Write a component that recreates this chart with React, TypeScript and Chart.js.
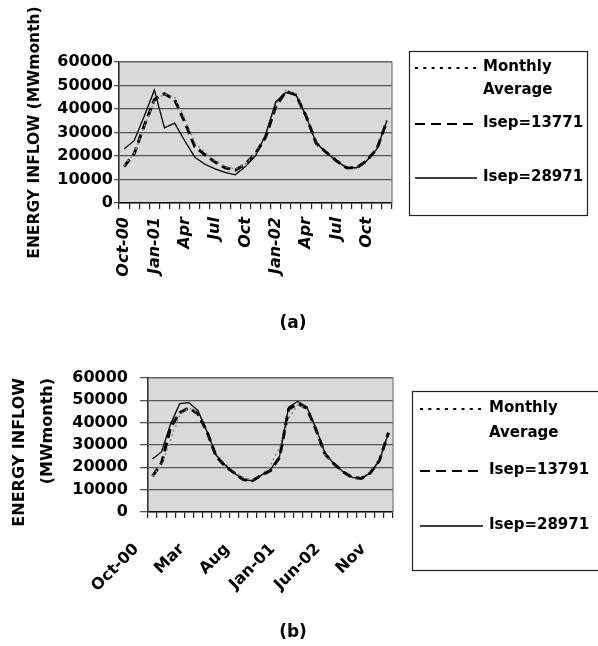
import React, { useEffect, useRef } from 'react';
import { Chart, registerables } from 'chart.js';

Chart.register(...registerables);

const FONT = "'DejaVu Sans', sans-serif";

// ---------- DATA ----------
const months = [
  'Oct-00', 'Nov-00', 'Dec-00', 'Jan-01', 'Feb-01', 'Mar-01', 'Apr-01', 'May-01', 'Jun-01',
  'Jul-01', 'Aug-01', 'Sep-01', 'Oct-01', 'Nov-01', 'Dec-01', 'Jan-02', 'Feb-02', 'Mar-02',
  'Apr-02', 'May-02', 'Jun-02', 'Jul-02', 'Aug-02', 'Sep-02', 'Oct-02', 'Nov-02', 'Dec-02',
];

const tickLabelsA = [
  'Oct-00', '', '', 'Jan-01', '', '', 'Apr', '', '', 'Jul', '', '', 'Oct', '', '',
  'Jan-02', '', '', 'Apr', '', '', 'Jul', '', '', 'Oct', '', '',
];

const tickLabelsB = [
  'Oct-00', '', '', '', '', 'Mar', '', '', '', '', 'Aug', '', '', '', '',
  'Jan-01', '', '', '', '', 'Jun-02', '', '', '', '', 'Nov', '',
];

const yTickValues = [0, 10000, 20000, 30000, 40000, 50000, 60000];

const monthlyAverage = [
  16000, 21000, 32500, 43500, 46500, 45000, 36000, 25500, 21500, 18000, 15500, 14500,
  16500, 21000, 29000, 42000, 48000, 46500, 37500, 25500, 21500, 18000, 15500, 15000,
  18000, 23000, 35500,
];

const isep13771 = [
  15500, 21000, 33000, 44000, 46500, 44000, 34500, 24000, 20500, 17500, 15000, 14000,
  16500, 21000, 28000, 41000, 47500, 46000, 37000, 25500, 21500, 18000, 15000, 15000,
  18000, 23000, 35000,
];

const isep28971A = [
  23000, 26500, 37000, 48000, 32000, 34000, 26500, 19500, 16500, 14500, 13000, 12000,
  15500, 20000, 29000, 43000, 47000, 46000, 37000, 25500, 21500, 18000, 15000, 15000,
  18000, 23000, 35000,
];

const isep13791 = [
  16000, 22000, 38000, 44500, 46500, 44000, 36000, 25000, 20500, 17500, 14500, 14000,
  16500, 18500, 24500, 46000, 48500, 46500, 37000, 26000, 21500, 18000, 15500, 15000,
  17500, 23000, 35500,
];

const isep28971B = [
  23700, 27000, 39500, 48500, 49000, 45500, 36000, 25500, 21000, 17500, 14500, 14000,
  16500, 19000, 25000, 47000, 49500, 47000, 37500, 26500, 21500, 18000, 15500, 15000,
  17500, 23000, 35500,
];

// ---------- PLUGINS ----------
const plotFrame = {
  id: 'plotFrame',
  beforeDraw(chart: any) {
    const { ctx, chartArea } = chart;
    if (!chartArea) return;
    ctx.save();
    ctx.fillStyle = '#d9d9d9';
    ctx.fillRect(chartArea.left, chartArea.top, chartArea.right - chartArea.left, chartArea.bottom - chartArea.top);
    ctx.restore();
  },
  afterDraw(chart: any) {
    const { ctx, chartArea } = chart;
    if (!chartArea) return;
    ctx.save();
    ctx.strokeStyle = '#7a7a7a';
    ctx.lineWidth = 1.2;
    ctx.beginPath();
    ctx.moveTo(chartArea.left, chartArea.top);
    ctx.lineTo(chartArea.right, chartArea.top);
    ctx.lineTo(chartArea.right, chartArea.bottom);
    ctx.stroke();
    ctx.restore();
  },
};

const boxLegend = {
  id: 'boxLegend',
  afterDraw(chart: any, _args: any, opts: any) {
    if (!opts || !opts.box) return;
    const ctx = chart.ctx;
    const b = opts.box;
    ctx.save();
    ctx.strokeStyle = '#222';
    ctx.lineWidth = 1.2;
    ctx.setLineDash([]);
    ctx.strokeRect(b.left + 0.5, b.top + 0.5, b.right - b.left, b.bottom - b.top);
    ctx.font = `bold ${opts.fontSize}px ${FONT}`;
    ctx.textBaseline = 'middle';
    ctx.textAlign = 'left';
    ctx.fillStyle = '#000';
    chart.data.datasets.forEach((ds: any, i: number) => {
      const y = opts.rows[i];
      const s = opts.samples[i];
      ctx.strokeStyle = '#000';
      ctx.lineWidth = s.width;
      ctx.setLineDash(s.dash);
      ctx.beginPath();
      ctx.moveTo(opts.sampleX0, y + 1);
      ctx.lineTo(opts.sampleX1, y + 1);
      ctx.stroke();
      ctx.setLineDash([]);
      String(ds.label).split(' ').forEach((t: string, k: number) => {
        ctx.fillText(t, opts.textX, y + k * opts.lineGap);
      });
    });
    ctx.restore();
  },
};

function makeConfig(o: any) {
  const W = 598;
  return {
    type: 'line',
    data: {
      labels: months,
      datasets: o.series.map((s: any) => ({
        label: s.label,
        data: s.data,
        borderColor: s.color,
        borderWidth: s.width,
        borderDash: s.dash,
        pointRadius: 0,
        fill: false,
        tension: 0,
        order: s.order,
      })),
    },
    options: {
      responsive: false,
      maintainAspectRatio: false,
      animation: false,
      events: [],
      layout: { padding: { left: 0, top: o.area.top, right: W - o.area.right, bottom: 0 } },
      plugins: {
        legend: { display: false },
        tooltip: { enabled: false },
        title: { display: false },
        boxLegend: o.legend,
      },
      scales: {
        x: {
          type: 'category',
          offset: true,
          afterFit: (s: any) => { s.height = o.height - o.area.bottom; },
          grid: { offset: true, drawOnChartArea: false, drawTicks: true, tickLength: 6, color: '#222', lineWidth: 1.2 },
          border: { display: true, color: '#111', width: 1.6 },
          ticks: {
            autoSkip: false,
            maxRotation: o.xRot,
            minRotation: o.xRot,
            padding: o.xPad,
            labelOffset: o.xOff,
            color: '#000',
            font: { family: FONT, weight: 'bold', size: 16, style: o.xItalic ? 'italic' : 'normal' },
            callback: (_v: any, i: number) => o.tickLabels[i],
          },
        },
        y: {
          min: yTickValues[0],
          max: yTickValues[yTickValues.length - 1],
          afterFit: (s: any) => { s.width = o.area.left; },
          afterBuildTicks: (s: any) => { s.ticks = yTickValues.map((v) => ({ value: v })); },
          ticks: {
            padding: o.yPad,
            color: '#000',
            font: { family: FONT, weight: 'bold', size: 16 },
            callback: (v: any) => String(v),
          },
          grid: { color: '#555', lineWidth: 1.3, tickLength: o.yTick, drawTicks: true },
          border: { color: '#333', width: 1.6 },
          title: {
            display: true,
            text: o.yTitle,
            color: '#000',
            align: o.yTitleAlign,
            font: { family: FONT, weight: 'bold', size: o.yTitleSize, lineHeight: o.yTitleLH },
            padding: { top: o.yTitlePad, bottom: 0 },
          },
        },
      },
    },
    plugins: [plotFrame, boxLegend],
  };
}

export default function App() {
  const refA = useRef<HTMLCanvasElement>(null);
  const refB = useRef<HTMLCanvasElement>(null);

  useEffect(() => {
    const chartA = new Chart(refA.current as any, makeConfig({
      height: 310,
      area: { left: 119, top: 62, right: 392, bottom: 203 },
      tickLabels: tickLabelsA,
      xRot: 90, xPad: 8, xOff: 0, xItalic: true,
      yPad: 1, yTick: 5,
      yTitle: 'ENERGY INFLOW (MWmonth)', yTitleSize: 15.5, yTitleLH: 1.2, yTitlePad: 26, yTitleAlign: 'center',
      series: [
        { label: 'Monthly Average', data: monthlyAverage, color: '#8a8a8a', width: 1.5, dash: [2, 3], order: 1 },
        { label: 'Isep=13771', data: isep13771, color: '#000', width: 3, dash: [9, 5], order: 2 },
        { label: 'Isep=28971', data: isep28971A, color: '#000', width: 1.3, dash: [], order: 0 },
      ],
      legend: {
        box: { left: 409, top: 51, right: 587, bottom: 215 },
        fontSize: 15, sampleX0: 415, sampleX1: 477, textX: 483, lineGap: 23,
        rows: [67, 123, 177],
        samples: [{ dash: [3, 5.3], width: 2 }, { dash: [10, 6], width: 2 }, { dash: [], width: 1.5 }],
      },
    }) as any);

    const chartB = new Chart(refB.current as any, makeConfig({
      height: 316,
      area: { left: 148, top: 48, right: 393, bottom: 182 },
      tickLabels: tickLabelsB,
      xRot: 45, xPad: 22, xOff: -16, xItalic: false,
      yPad: 12, yTick: 8,
      yTitle: ['ENERGY INFLOW', '(MWmonth)'], yTitleSize: 16, yTitleLH: 1.75, yTitlePad: 5.5, yTitleAlign: 'end',
      series: [
        { label: 'Monthly Average', data: monthlyAverage, color: '#8a8a8a', width: 1.5, dash: [2, 3], order: 1 },
        { label: 'Isep=13791', data: isep13791, color: '#000', width: 3, dash: [9, 5], order: 2 },
        { label: 'Isep=28971', data: isep28971B, color: '#000', width: 1.3, dash: [], order: 0 },
      ],
      legend: {
        box: { left: 412, top: 61, right: 602, bottom: 240 },
        fontSize: 15, sampleX0: 420, sampleX1: 483, textX: 489, lineGap: 25,
        rows: [78, 140, 195],
        samples: [{ dash: [3, 5.3], width: 2 }, { dash: [10, 6], width: 2 }, { dash: [], width: 1.5 }],
      },
    }) as any);

    return () => {
      chartA.destroy();
      chartB.destroy();
    };
  }, []);

  const caption: React.CSSProperties = {
    position: 'absolute',
    transform: 'translate(-50%, -50%)',
    font: `bold 17px ${FONT}`,
    color: '#000',
    whiteSpace: 'nowrap',
  };

  return (
    <div style={{ position: 'absolute', left: 0, top: 0, width: 598, height: 646, background: '#fff', overflow: 'hidden' }}>
      <canvas ref={refA} width={598} height={310} style={{ position: 'absolute', left: 0, top: 0, width: 598, height: 310 }} />
      <canvas ref={refB} width={598} height={316} style={{ position: 'absolute', left: 0, top: 330, width: 598, height: 316 }} />
      <div style={{ ...caption, left: 293, top: 322 }}>(a)</div>
      <div style={{ ...caption, left: 293, top: 631 }}>(b)</div>
    </div>
  );
}
